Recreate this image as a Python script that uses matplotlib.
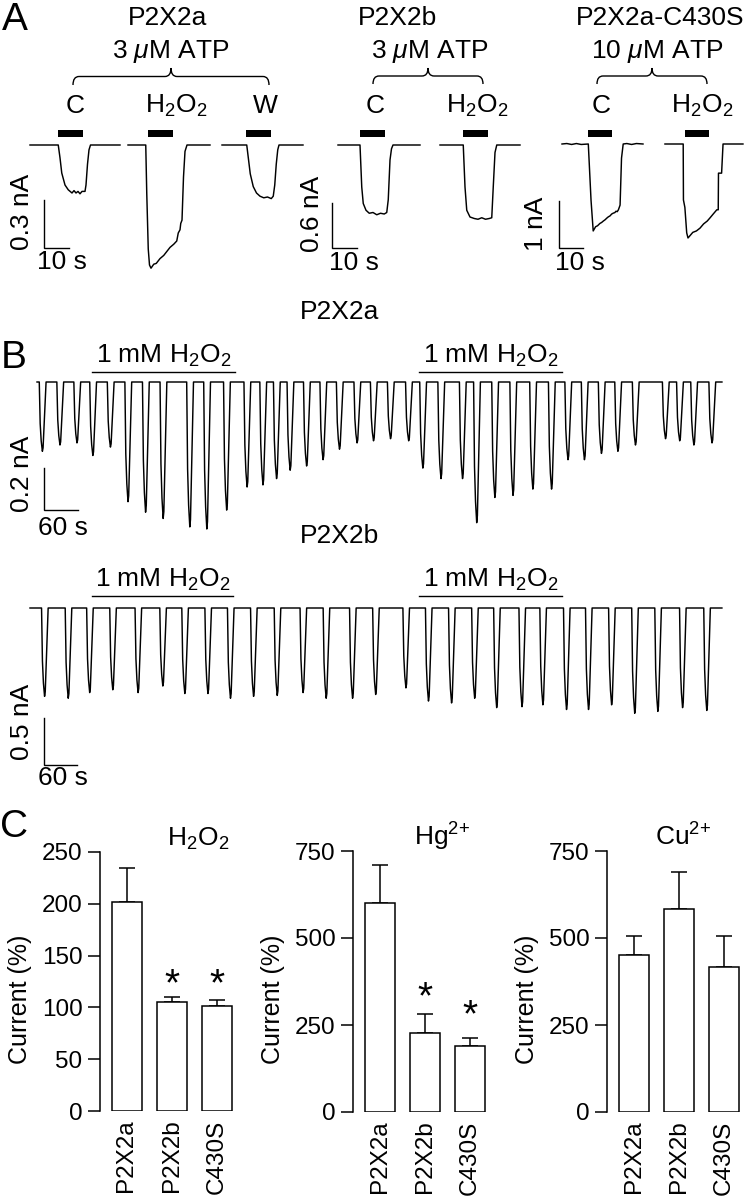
import matplotlib
matplotlib.use('Agg')
import matplotlib.pyplot as plt
from matplotlib.patches import Rectangle, PathPatch
from matplotlib.path import Path

plt.rcParams['font.family'] = ['Liberation Sans', 'DejaVu Sans']
plt.rcParams['mathtext.fontset'] = 'custom'
plt.rcParams['mathtext.rm'] = 'Liberation Sans'
plt.rcParams['mathtext.it'] = 'Liberation Sans:italic'
plt.rcParams['mathtext.default'] = 'regular'

FS = 19
FSC = 17.5
W, H = 745, 1199

# ---------------- DATA ----------------
# Panel A, P2X2a (3 uM ATP): control, H2O2, washout sweeps (s, nA)
a1_c_t = [0, 11.3, 12.0, 12.7, 14.0, 15.3, 16.8, 17.6, 18.4, 19.2, 20.0, 20.8, 22.0, 22.4, 23.0, 23.6, 24.2, 36.0]
a1_c_i = [0, 0, -0.08, -0.175, -0.25, -0.28, -0.30, -0.285, -0.30, -0.29, -0.305, -0.29, -0.29, -0.25, -0.12, -0.03, 0, 0]
a1_h_t = [39.2, 46.3, 46.7, 47.3, 47.8, 48.4, 49.5, 50.5, 52.0, 53.5, 55.0, 56.0, 57.5, 58.7, 59.3, 60.0, 60.3, 60.8, 61.4, 62.0, 62.8, 72.0]
a1_h_i = [0, 0, -0.3, -0.65, -0.75, -0.77, -0.745, -0.74, -0.71, -0.69, -0.66, -0.64, -0.62, -0.60, -0.55, -0.53, -0.49, -0.47, -0.2, -0.04, 0, 0]
a1_w_t = [76.8, 86.7, 87.4, 88.1, 89.3, 90.6, 92.0, 93.5, 95.0, 96.5, 97.3, 97.9, 98.5, 99.1, 99.6, 109.2]
a1_w_i = [0, 0, -0.09, -0.18, -0.26, -0.30, -0.32, -0.33, -0.325, -0.335, -0.32, -0.25, -0.12, -0.03, 0, 0]
a1_app = [11.2, 47.2, 86.4]

# Panel A, P2X2b (3 uM ATP): control, H2O2
a2_c_t = [0, 8.8, 9.5, 10.1, 11.2, 12.5, 14.0, 15.5, 17.0, 18.5, 19.5, 20.1, 20.8, 21.4, 22.0, 32.8]
a2_c_i = [0, 0, -0.56, -0.78, -0.87, -0.91, -0.90, -0.93, -0.91, -0.92, -0.90, -0.73, -0.2, -0.05, 0, 0]
a2_h_t = [40.8, 50.1, 50.8, 51.5, 52.8, 54.5, 56.0, 57.5, 59.0, 60.5, 61.5, 62.1, 62.8, 63.5, 72.8]
a2_h_i = [0, 0, -0.56, -0.87, -0.96, -0.98, -0.99, -0.97, -0.99, -0.98, -0.97, -0.56, -0.1, 0, 0]
a2_app = [8.8, 50.0]

# Panel A, P2X2a-C430S (10 uM ATP): control, H2O2
a3_c_t = [0, 2, 4, 6, 8, 10.96, 12.1, 13.0, 14.0, 14.8, 15.8, 16.5, 17.2, 18.0, 18.6, 19.3, 20.0, 20.7, 21.4,
          22.0, 22.5, 23.0, 23.5, 24.2, 24.8, 25.5, 27, 29, 31, 33.75]
a3_c_i = [0, 0.01, -0.01, 0.01, -0.01, 0, -1.2, -1.85, -1.76, -1.74, -1.69, -1.67, -1.64, -1.61, -1.58, -1.55,
          -1.53, -1.49, -1.47, -1.46, -1.43, -1.44, -1.40, -1.3, -0.3, 0, 0.01, -0.01, 0.01, 0]
a3_h_t = [42.9, 50.5, 50.6, 51.2, 51.96, 52.5, 54.5, 56.0, 57.5, 59.0, 60.5, 61.7, 63.0, 64.5, 65.1, 65.2,
          66.5, 67.1, 75.4]
a3_h_i = [0, 0, -1.19, -1.35, -1.89, -2.0, -1.88, -1.85, -1.79, -1.70, -1.64, -1.57, -1.49, -1.40, -1.40,
          -0.62, -0.62, 0, 0]
a3_app = [10.8, 51.3]

# Panel B, P2X2a: ATP pulse times (s) and peak amplitudes (nA)
b1_times = [10, 41, 71, 99, 130, 161, 192, 223, 270, 300, 335, 371, 399, 423, 447, 476, 505, 534, 565,
            594, 624, 656, 681, 713, 751, 776, 808, 840, 875, 908, 937, 966, 996, 1025, 1056, 1109,
            1134, 1159, 1191]
b1_amps = [0.33, 0.30, 0.29, 0.35, 0.31, 0.57, 0.62, 0.65, 0.69, 0.70, 0.61, 0.50, 0.49, 0.46, 0.42,
           0.40, 0.37, 0.32, 0.29, 0.28, 0.27, 0.28, 0.41, 0.46, 0.46, 0.67, 0.55, 0.54, 0.51, 0.51,
           0.37, 0.37, 0.34, 0.33, 0.30, 0.27, 0.28, 0.30, 0.29]
b1_end = 1208
b1_h2o2 = [(97, 349), (674, 926)]

# Panel B, P2X2b
b2_times = [27, 70, 109, 151, 197, 242, 282, 324, 365, 407, 450, 497, 539, 587, 629, 684, 725, 767,
            809, 849, 895, 933, 976, 1016, 1058, 1100, 1142, 1187, 1231]
b2_amps = [0.94, 0.96, 0.90, 0.87, 0.90, 0.83, 0.91, 0.91, 0.96, 0.94, 0.93, 0.90, 0.96, 0.96, 0.92,
           0.85, 0.99, 1.01, 0.96, 1.06, 1.05, 1.03, 1.08, 1.08, 1.03, 1.12, 1.10, 1.06, 1.09]
b2_end = 1258
b2_h2o2 = [(113, 369), (707, 967)]

# Panel C
c_groups = ['P2X2a', 'P2X2b', 'C430S']
h2o2_mean = [202, 105, 101]
h2o2_sem = [33, 5, 6]
hg_mean = [600, 228, 191]
hg_sem = [110, 53, 21]
cu_mean = [451, 582, 418]
cu_sem = [55, 107, 89]
h2o2_star_y = [None, 125, 125]
hg_star_y = [None, 339, 286]
cu_star_y = [None, None, None]

# ---------------- FIGURE ----------------
fig = plt.figure(figsize=(W / 100, H / 100), dpi=100)
ov = fig.add_axes([0, 0, 1, 1])
ov.set_xlim(0, W)
ov.set_ylim(H, 0)
ov.axis('off')


def px_axes(x0, y0, x1, y1):
    return fig.add_axes([x0 / W, 1 - y1 / H, (x1 - x0) / W, (y1 - y0) / H])


def trace_axes(x0, y0, x1, y1, orig_x, base_y, ppx_s, ppx_na):
    ax = px_axes(x0, y0, x1, y1)
    ax.set_xlim((x0 - orig_x) / ppx_s, (x1 - orig_x) / ppx_s)
    ax.set_ylim((base_y - y1) / ppx_na, (base_y - y0) / ppx_na)
    ax.axis('off')
    ax.patch.set_alpha(0)
    return ax


def scalebar(ax, t0, i0, dt, di):
    ax.plot([t0, t0, t0 + dt], [i0 + di, i0, i0], color='k', lw=1.0, clip_on=False,
            solid_joinstyle='miter')


def brace(x0, x1, y_tip, y_end, r=6):
    xc = (x0 + x1) / 2
    ym = (y_tip + y_end) / 2
    verts = [(x0, y_end), (x0, ym), (x0 + r, ym), (xc - r, ym), (xc, ym), (xc, y_tip),
             (xc, ym), (xc + r, ym), (x1 - r, ym), (x1, ym), (x1, y_end)]
    codes = [Path.MOVETO, Path.CURVE3, Path.CURVE3, Path.LINETO, Path.CURVE3, Path.CURVE3,
             Path.CURVE3, Path.CURVE3, Path.LINETO, Path.CURVE3, Path.CURVE3]
    ov.add_patch(PathPatch(Path(verts, codes), fill=False, lw=1.0, color='k'))


def txt(x, y, s, size=FS, **kw):
    kw.setdefault('ha', 'center')
    kw.setdefault('va', 'baseline')
    ov.text(x, y, s, fontsize=size, **kw)


H2O2 = 'H$_2$O$_2$'
LW = 1.05
BAR_TOP, BAR_BOT = 129.5, 136.5

# ---- Panel A ----
specs = [
    (dict(x0=0, y0=110, x1=310, y1=290, orig_x=30, base_y=145, ppx_s=2.5, ppx_na=160),
     [(a1_c_t, a1_c_i), (a1_h_t, a1_h_i), (a1_w_t, a1_w_i)], a1_app, (5.6, 0.3)),
    (dict(x0=305, y0=110, x1=530, y1=290, orig_x=338, base_y=145, ppx_s=2.5, ppx_na=75),
     [(a2_c_t, a2_c_i), (a2_h_t, a2_h_i)], a2_app, (-2.4, 0.6)),
    (dict(x0=530, y0=110, x1=745, y1=290, orig_x=562, base_y=144, ppx_s=2.4, ppx_na=47),
     [(a3_c_t, a3_c_i), (a3_h_t, a3_h_i)], a3_app, (-1.25, 1.0)),
]
for sp, sweeps, apps, (sb_t, sb_i) in specs:
    ax = trace_axes(**sp)
    for t, i in sweeps:
        ax.plot(t, i, color='k', lw=LW)
    ppx_na = sp['ppx_na']
    for a in apps:
        ax.add_patch(Rectangle((a, (sp['base_y'] - BAR_BOT) / ppx_na), 10,
                               (BAR_BOT - BAR_TOP) / ppx_na, color='k', lw=0))
    scalebar(ax, sb_t, (sp['base_y'] - 247.5) / ppx_na, 10, sb_i)

txt(15, 30, 'A', size=28)
txt(168, 25, 'P2X2a')
txt(171, 58, r'3 $\mathit{\mu}$M ATP')
brace(73, 269, 68, 85)
txt(75, 113, 'C')
txt(176, 113, H2O2)
txt(265, 113, 'W')
txt(397, 25, 'P2X2b')
txt(430, 58, r'3 $\mathit{\mu}$M ATP')
brace(373, 483, 68, 84)
txt(375, 113, 'C')
txt(477, 113, H2O2)
txt(660, 25, 'P2X2a-C430S')
txt(657, 58, r'10 $\mathit{\mu}$M ATP')
brace(597, 707, 68, 84)
txt(601, 113, 'C')
txt(702, 113, H2O2)
# scale labels
txt(22, 212, '0.3 nA', rotation=90, va='center')
txt(62, 262, '10 s', va='center')
txt(312, 214, '0.6 nA', rotation=90, va='center')
txt(354, 263, '10 s', va='center')
txt(536, 224, '1 nA', rotation=90, va='center')
txt(580, 263, '10 s', va='center')

# ---- Panel B ----
PULSE_DT = [-6.0, -5.2, -4.4, -2.6, -0.5, 0.7, 2.6, 4.4, 6.0]
PULSE_F = [0, 0.3, 0.6, 0.85, 1.0, 0.95, 0.6, 0.25, 0]


def pulse_train(times, amps, t_end):
    tt, ii = [0], [0]
    for t, a in zip(times, amps):
        for dt, f in zip(PULSE_DT, PULSE_F):
            tt.append(t + dt)
            ii.append(-a * f)
    tt.append(t_end)
    ii.append(0)
    return tt, ii


bspecs = [
    (dict(x0=0, y0=355, x1=745, y1=545, orig_x=37, base_y=382, ppx_s=0.567, ppx_na=210),
     b1_times, b1_amps, b1_end, b1_h2o2, 372, 363, 0.2, 510),
    (dict(x0=0, y0=580, x1=745, y1=790, orig_x=30, base_y=608, ppx_s=0.55, ppx_na=94),
     b2_times, b2_amps, b2_end, b2_h2o2, 596, 587, 0.5, 765),
]
for sp, times, amps, tend, h2, line_y, lab_y, sb_i, sb_y in bspecs:
    ax = trace_axes(**sp)
    tt, ii = pulse_train(times, amps, tend)
    ax.plot(tt, ii, color='k', lw=LW)
    yy = (sp['base_y'] - line_y) / sp['ppx_na']
    for (s, e) in h2:
        ax.plot([s, e], [yy, yy], color='k', lw=1.0)
        xc = sp['orig_x'] + (s + e) / 2 * sp['ppx_s']
        txt(xc, lab_y, '1 mM ' + H2O2)
    scalebar(ax, (44 - sp['orig_x']) / sp['ppx_s'], (sp['base_y'] - sb_y) / sp['ppx_na'], 60, sb_i)

txt(340, 312, 'P2X2a', va='center')
txt(14, 358, 'B', size=28, va='center')
txt(22, 474, '0.2 nA', rotation=90, va='center')
txt(63, 528, '60 s', va='center')
txt(340, 536, 'P2X2b', va='center')
txt(22, 722, '0.5 nA', rotation=90, va='center')
txt(63, 778, '60 s', va='center')

# ---- Panel C ----
PPU = 45.3
cspecs = [
    (100, 852, 1111, 250, [0, 50, 100, 150, 200, 250], h2o2_mean, h2o2_sem, h2o2_star_y, H2O2, 198),
    (353, 851, 1112, 750, [0, 250, 500, 750], hg_mean, hg_sem, hg_star_y, 'Hg$^{2{+}}$', 442),
    (607, 851, 1112, 750, [0, 250, 500, 750], cu_mean, cu_sem, cu_star_y, 'Cu$^{2{+}}$', 683),
]
for sx, ty, by, ymax, yt, mean, sem, stars, title, title_x in cspecs:
    width_px = 145
    ax = px_axes(sx, ty, sx + width_px, by)
    x = list(range(len(c_groups)))
    ax.errorbar(x, mean, yerr=[[0] * len(sem), sem], fmt='none', ecolor='k', elinewidth=1.1,
                capsize=5.5, capthick=1.1, zorder=1)
    ax.bar(x, mean, width=30 / PPU, color='white', edgecolor='k', linewidth=1.1, zorder=2)
    for xi, sy in zip(x, stars):
        if sy is not None:
            ax.annotate('*', xy=(xi, sy), xytext=(0, -10), textcoords='offset points',
                        ha='center', va='baseline', fontsize=28)
    ax.set_xlim(-26.5 / PPU, -26.5 / PPU + width_px / PPU)
    ax.set_ylim(0, ymax)
    ax.set_yticks(yt)
    ax.set_xticks(x)
    ax.set_xticklabels(c_groups, rotation=90, fontsize=FSC)
    ax.tick_params(axis='x', length=0, pad=6)
    ax.tick_params(axis='y', length=8.6, width=1.1, pad=4, labelsize=FSC, direction='out')
    for s in ['top', 'right', 'bottom']:
        ax.spines[s].set_visible(False)
    ax.spines['left'].set_linewidth(1.1)
    ax.patch.set_alpha(0)
    ax.set_ylabel('Current (%)', fontsize=18)
    ax.yaxis.set_label_coords(-68 / width_px, 0.43)
    txt(title_x, 846, title)

txt(14, 827, 'C', size=28, va='center')

fig.savefig('out.png', dpi=100)
